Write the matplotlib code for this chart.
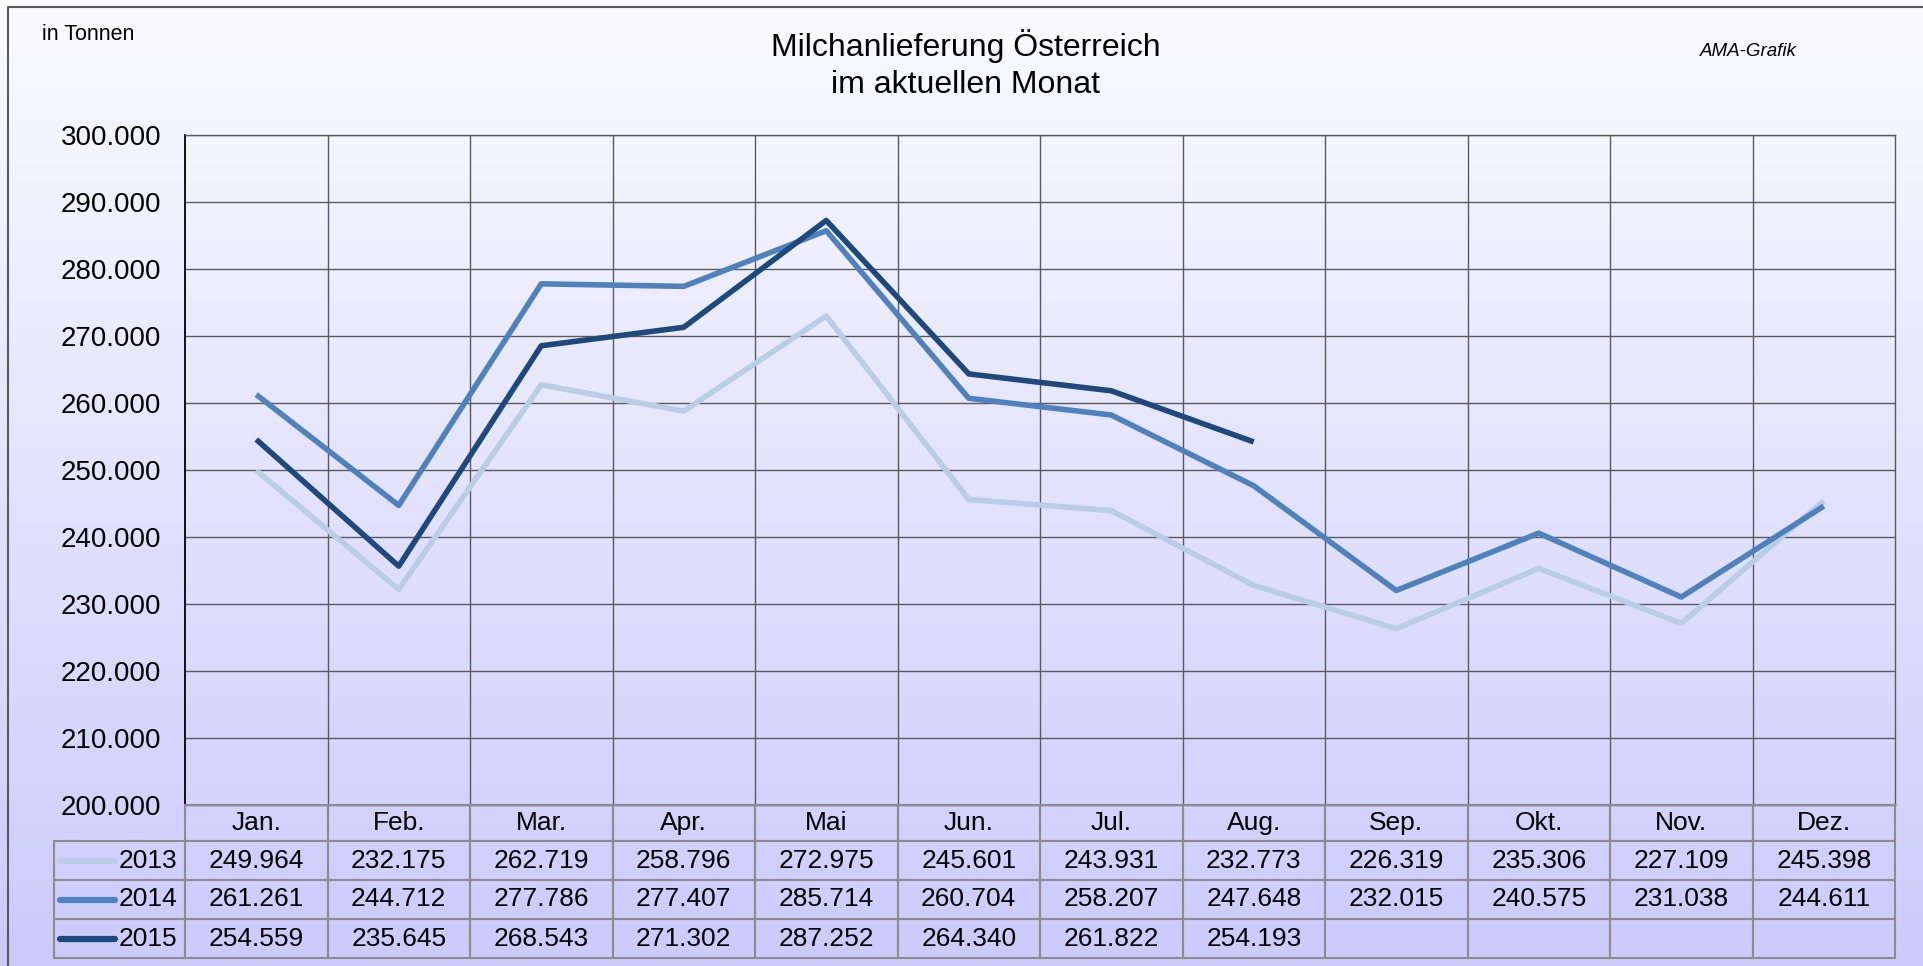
import numpy as np
import matplotlib.pyplot as plt
from matplotlib.ticker import FuncFormatter

plt.rcParams['font.family'] = ['Liberation Sans', 'DejaVu Sans']

# Daten (Tonnen)
monate = ['Jan.', 'Feb.', 'Mar.', 'Apr.', 'Mai', 'Jun.', 'Jul.', 'Aug.',
          'Sep.', 'Okt.', 'Nov.', 'Dez.']
jahre = ['2013', '2014', '2015']
werte_2013 = [249964, 232175, 262719, 258796, 272975, 245601, 243931, 232773,
              226319, 235306, 227109, 245398]
werte_2014 = [261261, 244712, 277786, 277407, 285714, 260704, 258207, 247648,
              232015, 240575, 231038, 244611]
werte_2015 = [254559, 235645, 268543, 271302, 287252, 264340, 261822, 254193]
farben = ['#b9cde5', '#4f81bd', '#1f497d']


def fmt(v, pos=None):
    return f'{v:,.0f}'.replace(',', '.')


W, H = 1923, 966
fig = plt.figure(figsize=(W / 100, H / 100), dpi=100)

# Hintergrund mit Verlauf
bg = fig.add_axes([0, 0, 1, 1], zorder=-10)
t = np.linspace(0, 1, 256)[:, None, None]
oben = np.array([251, 251, 255]) / 255
unten = np.array([203, 203, 252]) / 255
bg.imshow(oben + (unten - oben) * t, aspect='auto', extent=[0, 1, 0, 1])
bg.plot([8 / W, 8 / W, 1], [0, 1 - 7 / H, 1 - 7 / H], color='#5a5a5a', lw=1.5)
bg.set_xlim(0, 1)
bg.set_ylim(0, 1)
bg.axis('off')

# Diagramm
ax = fig.add_axes([185 / W, 1 - 805 / H, 1710 / W, 670 / H])
ax.set_facecolor('none')
x = np.arange(len(monate))
for werte, farbe in zip([werte_2013, werte_2014, werte_2015], farben):
    ax.plot(x[:len(werte)], werte, color=farbe, lw=4,
            solid_capstyle='butt', solid_joinstyle='round', zorder=3)
ax.set_xlim(-0.5, 11.5)
ax.set_ylim(200000, 300000)
ax.set_yticks(range(200000, 300001, 10000))
ax.yaxis.set_major_formatter(FuncFormatter(fmt))
ax.set_xticks(np.arange(0.5, 11, 1))
ax.set_xticklabels([])
ax.grid(True, color='#5a5a5a', lw=1)
ax.tick_params(length=0, labelsize=20, pad=17)
for s in ['top', 'right', 'bottom']:
    ax.spines[s].set_color('#5a5a5a')
    ax.spines[s].set_linewidth(1)
ax.spines['left'].set_color('black')
ax.spines['left'].set_linewidth(1.3)

# Datentabelle, Zellmasse direkt in Achsenanteilen
tab_w = 1841.0
tab_h = 153.0
lab_w = 131.0
tax = fig.add_axes([54 / W, 1 - 958 / H, tab_w / W, tab_h / H])
tax.axis('off')
zellen = [[fmt(v) for v in w] + [''] * (12 - len(w))
          for w in [werte_2013, werte_2014, werte_2015]]
tab = tax.table(cellText=zellen, rowLabels=jahre, colLabels=monate,
                cellLoc='center', rowLoc='right',
                bbox=[lab_w / tab_w, 0, 1 - lab_w / tab_w, 1])
tab._autoColumns = [c for c in tab._autoColumns if c != -1]
tab.auto_set_font_size(False)
tab.set_fontsize(19)
for (r, c), cell in tab.get_celld().items():
    cell.set_facecolor('none')
    cell.set_edgecolor('#8c8c8c')
    cell.set_linewidth(1.5)
    cell.set_width((lab_w if c == -1 else (tab_w - lab_w) / 12) / tab_w)
    cell.set_height((36 if r == 0 else 39) / tab_h)
    if c == -1:
        cell.PAD = 0.06

# Legendensymbole
for i, farbe in enumerate(farben):
    yc = 1 - (36 + 39 * i + 19.5) / tab_h
    tax.plot([6 / tab_w, 61 / tab_w], [yc, yc], color=farbe, lw=4.5,
             transform=tax.transAxes, solid_capstyle='round', clip_on=False)

fig.text(42 / W, 1 - 34 / H, 'in Tonnen', va='center', fontsize=15.5)
fig.text(0.502, 1 - 65 / H, 'Milchanlieferung Österreich\nim aktuellen Monat',
         ha='center', va='center', fontsize=23, linespacing=1.3)
fig.text(1700 / W, 1 - 52 / H, 'AMA-Grafik', va='center', fontsize=13.5,
         style='italic')

fig.savefig('out.png', dpi=100)
